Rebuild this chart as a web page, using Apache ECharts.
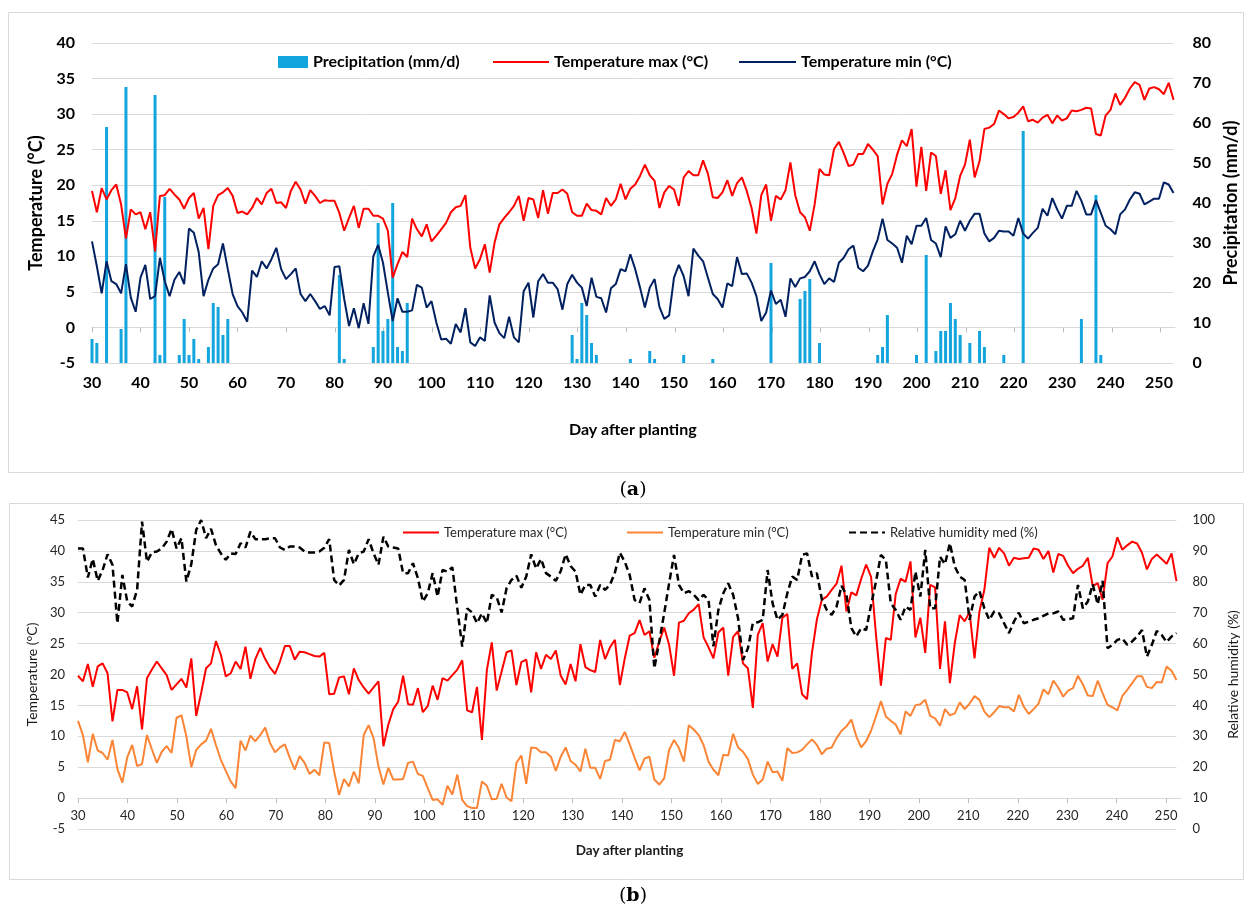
<!DOCTYPE html>
<html>
<head>
<meta charset="utf-8">
<script src="https://cdn.jsdelivr.net/npm/echarts@6/dist/echarts.min.js"></script>
<style>
  html, body { margin: 0; padding: 0; background: #fff; }
  #chart { width: 1248px; height: 906px; }
</style>
</head>
<body>
<div id="chart"></div>
<script>
// day after planting (category axis)
var days = [];
for (var d = 30; d <= 253; d++) days.push(String(d));

// (a) precipitation, only days with rain
var precipDays = [30, 31, 33, 36, 37, 43, 44, 45, 48, 49, 50, 51, 52, 54, 55, 56, 57, 58,
  81, 82, 88, 89, 90, 91, 92, 93, 94, 95, 129, 130, 131, 132, 133, 134, 141, 145, 146, 152, 158,
  170, 176, 177, 178, 180, 192, 193, 194, 200, 202, 204, 205, 206, 207, 208, 209, 211, 213, 214,
  218, 222, 234, 237, 238];
var precipValues = [6, 5, 59, 8.5, 69, 67, 2, 41.5, 2, 11, 2, 6, 1, 4, 15, 14, 7, 11,
  22, 1, 4, 35, 8, 11, 40, 4, 3, 15, 7, 1, 15, 12, 5, 2, 1, 3, 1, 2, 1,
  25, 16, 18, 21, 5, 2, 4, 12, 2, 27, 3, 8, 8, 15, 11, 7, 5, 8, 4,
  2, 58, 11, 42, 2];

// (a) temperature max, days 30..253
var tmaxA = [
  19.2, 16.2, 19.6, 18, 19.3, 20.1, 17.3, 12.5, 16.6, 15.9,
  16.2, 13.8, 16.2, 10.7, 18.5, 18.6, 19.5, 18.7, 18, 16.7,
  18.2, 18.9, 15.3, 16.8, 11, 17.1, 18.6, 19, 19.6, 18.5,
  16.1, 16.3, 15.9, 16.8, 18.2, 17.3, 18.9, 19.5, 17.5, 17.6,
  16.8, 19.2, 20.5, 19.4, 17.4, 19.3, 18.5, 17.5, 17.9, 17.8,
  17.8, 16.1, 13.6, 15.4, 17.1, 14, 16.7, 16.7, 15.7, 15.7,
  15.3, 13.6, 7, 8.9, 10.6, 9.9, 15.3, 13.8, 12.8, 14.5,
  12.1, 12.9, 13.8, 14.7, 16.2, 16.9, 17.1, 18.6, 11.2, 8.3,
  9.6, 11.7, 7.7, 11.9, 14.5, 15.4, 16.2, 17.1, 18.5, 15,
  18.2, 18, 15.4, 19.3, 16, 18.9, 18.9, 19.4, 18.8, 16.2,
  15.7, 15.7, 17.4, 16.5, 16.4, 15.9, 18.2, 17.1, 18, 20.2,
  18, 19.5, 20.1, 21.3, 22.9, 21.4, 20.6, 16.8, 19, 19.9,
  19.4, 17.1, 21.1, 22, 21.4, 21.4, 23.5, 21.6, 18.3, 18.2,
  19, 20.7, 18.5, 20.3, 21.1, 19.2, 16.8, 13.2, 18.6, 20.1,
  15, 18.5, 18, 19.3, 23.2, 18.6, 16.2, 15.5, 13.6, 17.3,
  22.3, 21.5, 21.4, 25.1, 26.1, 24.5, 22.7, 22.9, 24.4, 24.4,
  25.8, 25, 24.1, 17.3, 20.2, 21.6, 24.3, 26.3, 25.5, 27.9,
  19.8, 25.4, 19.2, 24.6, 24.1, 18.8, 22.1, 16.5, 18.2, 21.3,
  22.9, 26.4, 21.1, 23.4, 27.9, 28.1, 28.6, 30.5, 30, 29.4,
  29.6, 30.2, 31.1, 29, 29.2, 28.8, 29.5, 29.9, 28.7, 29.8,
  29.1, 29.4, 30.5, 30.4, 30.6, 30.9, 30.8, 27.2, 27, 29.8,
  30.6, 32.9, 31.3, 32.3, 33.6, 34.5, 34.1, 32, 33.6, 33.8,
  33.5, 32.8, 34.4, 32
];

// (a) temperature min, days 30..253
var tminA = [
  12.1, 8.6, 4.8, 9.3, 6.5, 6.1, 4.8, 8.9, 4.2, 2.2,
  7, 8.8, 4, 4.4, 9.8, 6.5, 4.4, 6.7, 7.8, 6.1,
  13.9, 13.3, 10.6, 4.4, 6.7, 8.3, 8.9, 11.8, 8.2, 4.7,
  3, 2.1, 0.8, 8, 7.1, 9.3, 8.3, 9.6, 11.2, 8.2,
  6.8, 7.5, 8.3, 4.7, 3.7, 4.7, 3.7, 2.6, 3, 1.7,
  8.5, 8.6, 4, 0.2, 2.7, -0.1, 3.4, 0.5, 10, 11.6,
  9.1, 4.9, 0.9, 4.1, 2.2, 2.2, 2.4, 6, 5.6, 2.8,
  3.7, 0.7, -1.7, -1.6, -2.3, 0.5, -0.7, 2.7, -2.1, -2.6,
  -1.4, -1.9, 4.5, 0.7, -0.8, -1.5, 1.5, -1.4, -2.1, 5.1,
  6.3, 1.4, 6.5, 7.5, 6.3, 6.3, 5.4, 2.5, 6.1, 7.4,
  6.3, 5.6, 3, 7, 4.3, 4.1, 2.1, 5.5, 6.1, 8.2,
  7.9, 10.3, 8.2, 5.6, 2.8, 5.6, 6.8, 2.9, 1.2, 1.7,
  7, 8.8, 7.2, 4.4, 11.1, 10.1, 9.3, 7, 4.7, 4,
  2.8, 6.2, 5.8, 9.9, 7.5, 7.6, 6.3, 4.4, 0.9, 2.1,
  5.2, 3.3, 3.9, 1.5, 6.9, 5.7, 6.9, 7.1, 7.9, 9.3,
  7.5, 6.1, 6.9, 6.4, 9.1, 9.8, 11, 11.5, 8.4, 7.9,
  8.7, 10.7, 12.4, 15.3, 12.3, 11.8, 11.2, 9.1, 12.9, 11.7,
  14.3, 14.3, 15.4, 12.3, 11.8, 9.9, 14.2, 12.6, 13.1, 15,
  13.6, 15, 16, 16, 13.2, 12.1, 12.6, 13.6, 13.5, 13.5,
  12.9, 15.4, 13.2, 12.5, 13.3, 14, 16.7, 15.7, 18.2, 16.6,
  15.3, 17.1, 17.1, 19.2, 17.8, 15.9, 15.9, 17.9, 16.1, 14.3,
  13.8, 13.1, 15.9, 16.6, 18, 19, 18.8, 17.3, 17.7, 18.1,
  18.1, 20.4, 20.1, 18.9
];

// (b) temperature max, days 30..253
var tmaxB = [
  19.8, 18.9, 21.7, 18, 21.3, 21.8, 20.2, 12.4, 17.5, 17.5,
  17.1, 14.4, 18.1, 11.1, 19.4, 20.8, 22.1, 21, 19.9, 17.5,
  18.4, 19.3, 17.9, 22.6, 13.3, 17, 21, 21.8, 25.4, 23.2,
  19.7, 20.2, 22.1, 20.9, 24.5, 19.3, 22.5, 24.3, 22.5, 21.1,
  20.1, 22.1, 24.6, 24.6, 22.4, 23.7, 23.6, 23.3, 23, 22.9,
  23.5, 16.8, 16.9, 19.5, 19.7, 16.8, 21, 19.1, 17.9, 16.9,
  17.9, 18.9, 8.4, 11.9, 14.4, 15.6, 19.8, 15.2, 15.1, 17.8,
  13.9, 14.9, 18.2, 15.9, 19.4, 19, 19.9, 20.8, 22.3, 14.2,
  13.9, 18, 9.4, 20.7, 25.2, 17.4, 20.5, 23.6, 23.9, 18.3,
  22, 22.4, 17.1, 23.6, 20.9, 23.2, 22.5, 23.9, 19.8, 18.4,
  21.7, 18.9, 24.9, 21.2, 20.7, 20.4, 25.6, 22.5, 24.4, 25.6,
  18.3, 22.6, 26.3, 26.7, 28.8, 26.4, 27, 22.7, 25.3, 27.6,
  24.8, 19.8, 28.4, 28.7, 29.9, 30.5, 31.4, 26, 24.4, 22.6,
  26.8, 27.6, 19.8, 26.1, 27, 21.8, 21, 14.6, 26.4, 28.3,
  22.1, 24.9, 22.9, 29.2, 29.8, 20.9, 21.8, 16.8, 16, 23.5,
  28.9, 32.1, 32.6, 33.7, 34.7, 37.6, 30.2, 33.3, 32.8, 35.5,
  37.8, 35.8, 26.4, 18.2, 25.9, 25.6, 33, 35.5, 35, 38.3,
  26, 29.2, 23.5, 34.5, 34.1, 20.9, 28.6, 18.6, 25.1, 29.6,
  28.6, 30.1, 22.6, 30.2, 33.7, 40.5, 38.9, 40.5, 39.6, 37.6,
  38.9, 38.7, 38.8, 38.9, 40.4, 40.2, 38.7, 40, 36.5, 39.5,
  39.2, 37.6, 36.4, 37.1, 37.6, 38.9, 34.3, 34.8, 32.1, 38,
  39.1, 42.2, 40.2, 40.9, 41.5, 41.2, 39.7, 37, 38.7, 39.4,
  38.7, 37.9, 39.6, 35.1
];

// (b) temperature min, days 30..253
var tminB = [
  12.5, 10.2, 5.8, 10.4, 7.7, 7.3, 6.2, 9.4, 4.7, 2.5,
  6.6, 8.6, 5.2, 5.5, 10.2, 7.9, 5.7, 7.5, 8.4, 7.3,
  13, 13.4, 10, 5, 7.8, 8.7, 9.3, 11.2, 8.6, 6.2,
  4.4, 2.7, 1.6, 9.3, 7.7, 10.1, 9.2, 10.2, 11.4, 8.9,
  7.4, 8.2, 8.7, 6.5, 4.6, 6.8, 5.7, 3.9, 4.6, 3.7,
  9, 8.9, 4.3, 0.5, 3.1, 1.9, 4.3, 2.4, 10.2, 11.8,
  9.7, 5.1, 2.2, 4.9, 3, 3, 3.1, 5.7, 5.9, 3.9,
  3.6, 1.6, -0.3, -0.2, -1.1, 2, 0.6, 3.8, -0.3, -1.3,
  -1.6, -1.6, 2.7, 2, -0.2, -0.1, 2.3, 0.1, -0.5, 5.7,
  6.9, 2.3, 8.2, 8.1, 7.4, 7.4, 6.7, 4.4, 6.7, 8.2,
  6, 5.4, 4.3, 8, 4.9, 4.9, 3.1, 6, 6.2, 9.4,
  9.2, 10.7, 8.7, 6.5, 4.5, 6.4, 6.7, 3, 2.2, 3.2,
  7.8, 9.4, 8.1, 5.9, 11.8, 11.1, 10.2, 8.6, 5.9, 4.6,
  3.7, 7, 6.9, 10.4, 8.2, 7.5, 6.3, 3.8, 2.3, 3,
  5.9, 4.2, 4.3, 2.8, 8.1, 7.3, 7.4, 7.8, 8.7, 9.5,
  8.6, 7.1, 8, 8.2, 9.7, 10.9, 11.6, 12.7, 10, 8.2,
  9.2, 10.9, 13.2, 15.7, 13.2, 12.5, 11.9, 10.3, 14, 13.3,
  15, 15.2, 15.9, 13.3, 12.9, 11.7, 14.4, 13.4, 13.7, 15.5,
  14.4, 15.3, 16.5, 15.9, 14, 13.1, 13.9, 14.9, 14.7, 14.7,
  14, 16.7, 14.8, 13.6, 14.4, 15.3, 17.6, 16.8, 19, 17.9,
  16.4, 17.4, 17.8, 19.8, 18.4, 16.6, 16.5, 19, 17, 15.1,
  14.7, 14.2, 16.5, 17.5, 18.6, 19.7, 19.7, 18, 17.8, 18.8,
  18.7, 21.3, 20.6, 19.1
];

// (b) relative humidity med, days 30..253
var rhB = [
  90.8, 90.8, 81.4, 87.4, 80.3, 83.8, 88.9, 85.5, 66.6, 82.2,
  73.6, 72, 77.4, 99.5, 86.5, 89.5, 89.8, 90.8, 93, 97.1,
  90.8, 94.1, 80.1, 85.7, 96.8, 100, 94.1, 97.1, 91.9, 89.2,
  87.1, 89.2, 89, 92.5, 91.1, 96.2, 93.8, 93.8, 93.8, 94.1,
  94.1, 91.1, 90.3, 91.4, 91.4, 91.1, 89.8, 89.5, 89.5, 89.8,
  91, 93.8, 80.6, 78.8, 80.6, 90.3, 85.7, 89.2, 89.8, 93.8,
  89.2, 85.5, 94.6, 91.4, 91.1, 90.8, 82.8, 82.8, 86, 81.2,
  73.6, 76.3, 82.8, 75.2, 83.8, 83.3, 84.7, 71.4, 59, 71.4,
  70.1, 66.6, 69.8, 66.6, 75.8, 75, 70.1, 77.9, 80.6, 82,
  78.1, 81.7, 88.9, 84.3, 87.4, 82.8, 81.7, 80.3, 83.5, 88.9,
  85.1, 83.3, 75.8, 79, 79, 75.2, 79, 77.4, 79, 83,
  89.4, 86.5, 82.2, 74.1, 73.1, 77.9, 74.1, 52, 60.7, 69.8,
  79.5, 88.7, 79, 76.3, 77, 75.8, 74.1, 75.8, 74.1, 59.1,
  70.9, 76.3, 79.5, 75.8, 68.2, 54.7, 58.5, 66.6, 66.9, 67.7,
  83.8, 73.1, 67.7, 69.3, 76.3, 81.7, 80.6, 88.7, 89.2, 81.7,
  82.8, 74.4, 70.9, 69.3, 72, 78.7, 75.8, 65, 62.3, 65,
  64.4, 72.5, 80.1, 88.7, 87.1, 73.1, 70.9, 67.7, 72, 70.9,
  83.3, 75.2, 90.3, 71.4, 71.4, 88.1, 85.7, 92.5, 84.9, 81.7,
  80.6, 67.7, 75.2, 77, 71.4, 67.7, 70.4, 69.8, 66.6, 63.4,
  67.1, 70, 66.6, 67.1, 67.7, 68.2, 69, 69.8, 69.8, 70.4,
  67.7, 67.9, 68.2, 79, 71.4, 73.6, 79.2, 72.7, 80.3, 58.5,
  59.6, 61.2, 61.7, 59.6, 60.7, 62.3, 64.4, 55.8, 59.6, 64.1,
  62.8, 60.5, 62.3, 63.4
];

var precipA = days.map(function () { return '-'; });
precipDays.forEach(function (day, i) {
  precipA[day - 30] = precipValues[i];
});

var FONT = 'Lato';
var cA = { fontFamily: FONT, fontWeight: 'bold', fontSize: 16, color: '#000' };
var cB = { fontFamily: FONT, fontSize: 13, color: '#262626' };
var gridCol = '#D9D9D9';
var stripB = function (n) { return n.replace('b:', ''); };
var noDot = { opacity: 0 };

var chart = echarts.init(document.getElementById('chart'));
chart.setOption({
  animation: false,
  backgroundColor: '#fff',
  grid: [
    { left: 92, right: 73, top: 43, height: 320 },
    { left: 78, right: 67, top: 520, height: 309 },
    // thin helper grids whose bottom edge sits on the 0 degC line
    { left: 92, right: 73, top: 320, height: 7.44 },
    { left: 78, right: 67, top: 790, height: 8.1 }
  ],
  legend: [
    { data: ['Precipitation (mm/d)'], left: 273, top: 49, icon: 'rect', itemWidth: 30, itemHeight: 12, selectedMode: false, textStyle: cA },
    { data: ['Temperature max (°C)'], left: 487, top: 49, itemWidth: 56, itemHeight: 12, itemStyle: noDot, selectedMode: false, textStyle: cA },
    { data: ['Temperature min (°C)'], left: 733, top: 49, itemWidth: 57, itemHeight: 12, itemStyle: noDot, selectedMode: false, textStyle: cA },
    { data: ['b:Temperature max (°C)'], left: 397, top: 521, itemWidth: 36, itemHeight: 12, itemStyle: noDot, selectedMode: false,
      formatter: stripB, textStyle: cB },
    { data: ['b:Temperature min (°C)'], left: 621, top: 521, itemWidth: 36, itemHeight: 12, itemStyle: noDot, selectedMode: false,
      formatter: stripB, textStyle: cB },
    { data: ['Relative humidity med (%)'], left: 843, top: 521, itemWidth: 36, itemHeight: 12, itemStyle: noDot, selectedMode: false, textStyle: cB }
  ],
  xAxis: [
    {
      gridIndex: 0, type: 'category', data: days, boundaryGap: false,
      axisLine: { show: false, onZero: false }, axisTick: { show: false },
      axisLabel: Object.assign({ interval: 9, margin: 12 }, cA),
      name: 'Day after planting', nameLocation: 'middle', nameGap: 59,
      nameTextStyle: cA
    },
    {
      gridIndex: 1, type: 'category', data: days, boundaryGap: false, show: false
    },
    {
      gridIndex: 2, type: 'category', data: days, boundaryGap: false,
      axisLine: { onZero: false, lineStyle: { color: gridCol } },
      axisTick: { interval: 9, length: 5, lineStyle: { color: '#BFBFBF' } },
      axisLabel: { show: false }
    },
    {
      gridIndex: 3, type: 'category', data: days, boundaryGap: false,
      axisLine: { onZero: false, lineStyle: { color: gridCol } },
      axisTick: { interval: 9, length: 5, lineStyle: { color: '#BFBFBF' } },
      axisLabel: Object.assign({ interval: 9, margin: 11 }, cB),
      name: 'Day after planting', nameLocation: 'middle', nameGap: 46,
      nameTextStyle: { fontFamily: FONT, fontWeight: 'bold', fontSize: 13.5, color: '#1a1a1a' }
    }
  ],
  yAxis: [
    {
      gridIndex: 0, type: 'value', min: -5, max: 40, interval: 5,
      axisLine: { show: false }, axisTick: { show: false },
      splitLine: { lineStyle: { color: gridCol } },
      axisLabel: Object.assign({ margin: 17 }, cA),
      name: 'Temperature (°C)', nameLocation: 'middle', nameRotate: 90, nameGap: 46,
      nameTextStyle: Object.assign({}, cA, { fontSize: 18 })
    },
    {
      gridIndex: 0, type: 'value', min: 0, max: 80, interval: 10, position: 'right',
      axisLine: { show: false }, axisTick: { show: false }, splitLine: { show: false },
      axisLabel: Object.assign({ margin: 19 }, cA),
      name: 'Precipitation (mm/d)', nameLocation: 'middle', nameRotate: 90, nameGap: 48,
      nameTextStyle: Object.assign({}, cA, { fontSize: 18 })
    },
    {
      gridIndex: 1, type: 'value', min: -5, max: 45, interval: 5,
      axisLine: { show: false }, axisTick: { show: false },
      splitLine: { lineStyle: { color: gridCol } },
      axisLabel: Object.assign({ margin: 13 }, cB),
      name: 'Temperature (°C)', nameLocation: 'middle', nameRotate: 90, nameGap: 38,
      nameTextStyle: { fontFamily: FONT, fontSize: 14, color: '#1a1a1a' }
    },
    {
      gridIndex: 1, type: 'value', min: 0, max: 100, interval: 10, position: 'right',
      axisLine: { show: false }, axisTick: { show: false }, splitLine: { show: false },
      axisLabel: Object.assign({ margin: 16 }, cB),
      name: 'Relative humidity (%)', nameLocation: 'middle', nameRotate: 90, nameGap: 45,
      nameTextStyle: { fontFamily: FONT, fontSize: 14, color: '#1a1a1a' }
    },
    { gridIndex: 2, type: 'value', show: false, splitLine: { show: false } },
    { gridIndex: 3, type: 'value', show: false, splitLine: { show: false } }
  ],
  series: [
    {
      name: 'Precipitation (mm/d)', type: 'bar', xAxisIndex: 0, yAxisIndex: 1,
      data: precipA, barWidth: 3, itemStyle: { color: '#12A5DE' }
    },
    {
      name: 'Temperature max (°C)', type: 'line', xAxisIndex: 0, yAxisIndex: 0,
      data: tmaxA, symbol: 'none', lineStyle: { color: '#FF0000', width: 2 }, itemStyle: { color: '#FF0000' }
    },
    {
      name: 'Temperature min (°C)', type: 'line', xAxisIndex: 0, yAxisIndex: 0,
      data: tminA, symbol: 'none', lineStyle: { color: '#002060', width: 2 }, itemStyle: { color: '#002060' }
    },
    {
      name: 'b:Temperature max (°C)', type: 'line', xAxisIndex: 1, yAxisIndex: 2,
      data: tmaxB, symbol: 'none', lineStyle: { color: '#FF0000', width: 2 }, itemStyle: { color: '#FF0000' }
    },
    {
      name: 'b:Temperature min (°C)', type: 'line', xAxisIndex: 1, yAxisIndex: 2,
      data: tminB, symbol: 'none', lineStyle: { color: '#FB8536', width: 2 }, itemStyle: { color: '#FB8536' }
    },
    {
      name: 'Relative humidity med (%)', type: 'line', xAxisIndex: 1, yAxisIndex: 3,
      data: rhB, symbol: 'none', lineStyle: { color: '#000', width: 2.5, type: [7, 4] }, itemStyle: { color: '#000' }
    }
  ],
  graphic: [
    { type: 'rect', shape: { x: 8.5, y: 12.5, width: 1235, height: 460 }, style: { fill: 'none', stroke: '#D9D9D9', lineWidth: 1 }, silent: true },
    { type: 'rect', shape: { x: 9.5, y: 503.5, width: 1234, height: 376 }, style: { fill: 'none', stroke: '#D9D9D9', lineWidth: 1 }, silent: true },
    {
      type: 'text', x: 633, y: 490,
      style: {
        text: '{p|(}{b|a}{p|)}', align: 'center', verticalAlign: 'middle',
        rich: {
          p: { fontFamily: 'DejaVu Serif', fontSize: 19, fill: '#000' },
          b: { fontFamily: 'DejaVu Serif', fontSize: 19, fontWeight: 'bold', fill: '#000' }
        }
      }
    },
    {
      type: 'text', x: 633, y: 896,
      style: {
        text: '{p|(}{b|b}{p|)}', align: 'center', verticalAlign: 'middle',
        rich: {
          p: { fontFamily: 'DejaVu Serif', fontSize: 19, fill: '#000' },
          b: { fontFamily: 'DejaVu Serif', fontSize: 19, fontWeight: 'bold', fill: '#000' }
        }
      }
    }
  ]
});
</script>
</body>
</html>
